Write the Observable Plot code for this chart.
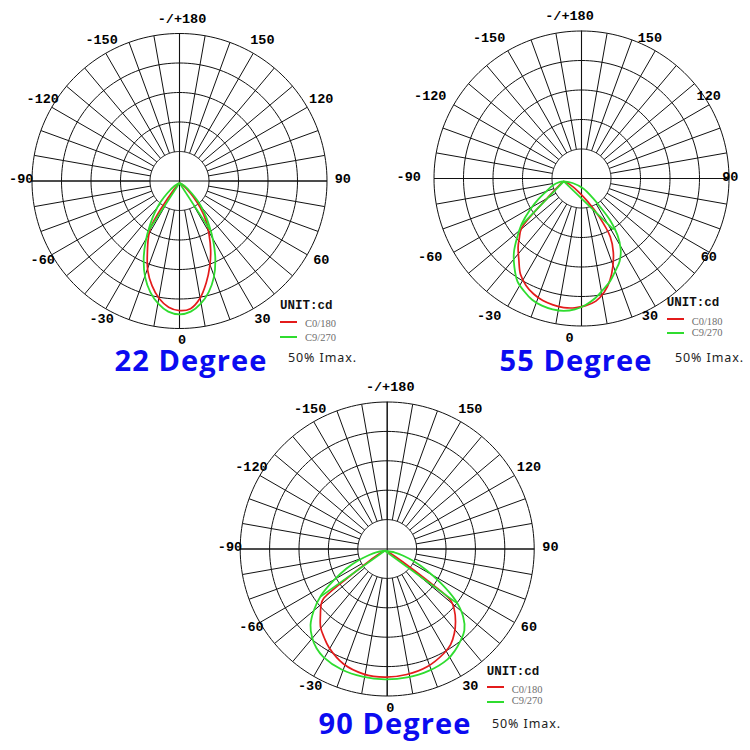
<!DOCTYPE html>
<html>
<head>
<meta charset="utf-8">
<script src="https://cdn.jsdelivr.net/npm/d3@7"></script>
<script src="https://cdn.jsdelivr.net/npm/@observablehq/plot@0.6"></script>
<style>
  html, body { margin: 0; padding: 0; background: #fff; }
  #page { position: relative; width: 750px; height: 750px; overflow: hidden; background: #fff; }
  .chart { position: absolute; }
  .txt { position: absolute; white-space: nowrap; line-height: 1; transform: translate(0, -50%); }
  .title { font-family: "Open Sans", "Noto Sans", sans-serif; font-weight: 700; color: #0b0bf0; font-size: 29px; letter-spacing: 1.1px; line-height: 0.78; transform: translate(-50%, -50%); }
  .unit { font-family: "Liberation Mono", "DejaVu Sans Mono", monospace; font-weight: 700; font-size: 12.5px; color: #111; }
  .ser { font-family: "Liberation Serif", "DejaVu Serif", serif; font-size: 10.5px; color: #6e6e6e; }
  .imax { font-family: "Noto Sans", "Open Sans", sans-serif; font-size: 12.5px; letter-spacing: 0.9px; color: #222; }
  .swatch { position: absolute; height: 2px; width: 17px; }
</style>
</head>
<body>
<div id="page"></div>
<script>
// ---------------- data ----------------
const chartTitles = ["22 Degree", "55 Degree", "90 Degree"];
const seriesNames = ["C0/180", "C9/270"];
const unitLabel = "UNIT:cd";
const scaleNote = "50% Imax.";
const ringRadii = [0.2, 0.4, 0.6, 0.8, 1.0];
const tickAngles = [180, 150, 120, 90, 60, 30, 0, -30, -60, -90, -120, -150];
const tickLabels = ["-/+180", "150", "120", "90", "60", "30", "0", "-30", "-60", "-90", "-120", "-150"];

// origin (apex) of the curves, in fractions of the outer radius (x right, y up)
const apexX = [0, -0.12, -0.016];
const apexY = [-0.014, -0.02, -0.012];

// 22 Degree
const c1RedAngles = [-90, -50, -40, -36, -33, -30, -25, -20, -15, -10, -5, 0, 5, 10, 15, 20, 25, 30, 35, 40, 45, 50, 60, 90];
const c1RedR      = [0, 0.01, 0.06, 0.2, 0.36, 0.42, 0.515, 0.63, 0.72, 0.795, 0.845, 0.865, 0.855, 0.795, 0.70, 0.60, 0.50, 0.40, 0.315, 0.22, 0.13, 0.07, 0.02, 0];
const c1GreenAngles = [-90, -70, -60, -50, -45, -40, -35, -30, -25, -20, -15, -10, -5, 0, 5, 10, 15, 20, 25, 30, 35, 40, 45, 50, 60, 70, 90];
const c1GreenR      = [0, 0.01, 0.04, 0.11, 0.18, 0.26, 0.35, 0.46, 0.575, 0.68, 0.765, 0.83, 0.875, 0.89, 0.875, 0.83, 0.765, 0.68, 0.575, 0.46, 0.35, 0.26, 0.18, 0.11, 0.04, 0.01, 0];
const c1SpurAngles = [-33, 33];
const c1SpurR      = [0.38, 0.38];

// 55 Degree
const c2RedAngles = [-90, -60, -50, -45, -42, -38, -35, -30, -25, -20, -15, -10, -5, 0, 5, 10, 15, 20, 25, 30, 35, 40, 45, 50, 55, 60, 70, 90];
const c2RedR      = [0, 0.01, 0.04, 0.15, 0.43, 0.49, 0.54, 0.61, 0.695, 0.75, 0.79, 0.82, 0.84, 0.855, 0.86, 0.855, 0.84, 0.80, 0.74, 0.665, 0.585, 0.49, 0.34, 0.21, 0.12, 0.07, 0.02, 0];
const c2GreenAngles = [-90, -80, -70, -60, -55, -50, -45, -40, -35, -30, -25, -20, -15, -10, -5, 0, 5, 10, 15, 20, 25, 30, 35, 40, 45, 50, 55, 60, 70, 80, 90];
const c2GreenR      = [0, 0.03, 0.08, 0.14, 0.21, 0.30, 0.40, 0.49, 0.59, 0.67, 0.745, 0.79, 0.83, 0.855, 0.87, 0.877, 0.87, 0.85, 0.82, 0.78, 0.745, 0.70, 0.66, 0.60, 0.515, 0.41, 0.30, 0.23, 0.14, 0.06, 0];
const c2SpurAngles = [-44, 46];
const c2SpurR      = [0.41, 0.47];

// 90 Degree
const c3RedAngles = [-90, -65, -57, -54, -52, -50, -45, -40, -35, -30, -20, -10, 0, 10, 20, 30, 35, 40, 45, 50, 53, 55, 58, 65, 90];
const c3RedR      = [0, 0.03, 0.12, 0.3, 0.53, 0.565, 0.62, 0.68, 0.72, 0.76, 0.82, 0.85, 0.86, 0.855, 0.84, 0.805, 0.78, 0.735, 0.68, 0.615, 0.56, 0.35, 0.15, 0.04, 0];
const c3GreenAngles = [-90, -80, -75, -70, -65, -60, -55, -50, -45, -40, -35, -30, -20, -10, 0, 10, 20, 30, 35, 40, 45, 50, 55, 60, 65, 70, 75, 80, 90];
const c3GreenR      = [0, 0.06, 0.11, 0.19, 0.29, 0.40, 0.53, 0.63, 0.715, 0.77, 0.81, 0.835, 0.86, 0.87, 0.875, 0.875, 0.87, 0.853, 0.83, 0.80, 0.765, 0.695, 0.585, 0.44, 0.31, 0.21, 0.13, 0.07, 0];
const c3SpurAngles = [-54.5, 54];
const c3SpurR      = [0.54, 0.60];

// ---------------- layout / style ----------------
const seriesColors = ["#e31b1b", "#2fdc2f"];
const layout = [
  {left: 0,   top: 0,   w: 375, h: 375, cx: 179,   cy: 180.5, R: 147.5, labelDx: 2.5,
   title: [191, 359.5], unit: [280, 306], sw: [280, 322.3, 336.7], ser: [305, 324, 337.5], imax: [288, 358]},
  {left: 375, top: 0,   w: 375, h: 375, cx: 206,   cy: 178,   R: 147.5, labelDx: -12,
   title: [576, 359.5], unit: [666.7, 303.3], sw: [666.7, 319.3, 332.7], ser: [691.7, 321.7, 333], imax: [675, 358]},
  {left: 190, top: 375, w: 375, h: 375, cx: 196.7, cy: 173.5, R: 147, labelDx: 3,
   title: [395, 722.5], unit: [486.7, 671.7], sw: [486.7, 687.3, 701.7], ser: [511.7, 690, 701], imax: [492, 724]}
];

const curveSets = [
  {red: [c1RedAngles, c1RedR], green: [c1GreenAngles, c1GreenR], spur: [c1SpurAngles, c1SpurR]},
  {red: [c2RedAngles, c2RedR], green: [c2GreenAngles, c2GreenR], spur: [c2SpurAngles, c2SpurR]},
  {red: [c3RedAngles, c3RedR], green: [c3GreenAngles, c3GreenR], spur: [c3SpurAngles, c3SpurR]}
];

const rad = d => d * Math.PI / 180;
const page = document.getElementById("page");

function addText(cls, text, x, y) {
  const el = document.createElement("div");
  el.className = "txt " + cls;
  el.textContent = text;
  el.style.left = x + "px";
  el.style.top = y + "px";
  page.appendChild(el);
}

layout.forEach((L, i) => {
  const R = L.R;
  const ringPts = ringRadii.flatMap(r => d3.range(0, 361, 2).map(t => ({r, t})));
  const spokes = d3.range(0, 360, 10);
  const diam = [0, 90];
  const ticks = tickAngles.map((a, k) => ({a, label: tickLabels[k]}));
  const lr = 1.09;
  const cs = curveSets[i];
  const ax = apexX[i], ay = apexY[i];
  const toPts = ([angs, rs], name) => angs.map((a, k) => ({a, r: rs[k], name}));
  const red = toPts(cs.red, seriesNames[0]);
  const green = toPts(cs.green, seriesNames[1]);
  const spur = toPts(cs.spur, seriesNames[1]);
  const px = d => ax + d.r * Math.sin(rad(d.a));
  const py = d => ay - d.r * Math.cos(rad(d.a));

  const chart = Plot.plot({
    width: L.w, height: L.h, margin: 0,
    x: {domain: [-L.cx / R, (L.w - L.cx) / R], axis: null},
    y: {domain: [-(L.h - L.cy) / R, L.cy / R], axis: null},
    style: {background: "transparent", overflow: "visible"},
    marks: [
      Plot.line(ringPts, {x: d => d.r * Math.sin(rad(d.t)), y: d => d.r * Math.cos(rad(d.t)), z: "r", stroke: "#111", strokeWidth: 1}),
      Plot.link(spokes, {
        x1: d => ringRadii[0] * Math.sin(rad(d)), y1: d => -ringRadii[0] * Math.cos(rad(d)),
        x2: d => Math.sin(rad(d)), y2: d => -Math.cos(rad(d)), stroke: "#111", strokeWidth: 1}),
      Plot.link(diam, {
        x1: d => -Math.sin(rad(d)), y1: d => Math.cos(rad(d)),
        x2: d => Math.sin(rad(d)), y2: d => -Math.cos(rad(d)), stroke: "#111", strokeWidth: 1.1}),
      Plot.text(ticks, {
        x: d => lr * Math.sin(rad(d.a)) + L.labelDx / R,
        y: d => -lr * Math.cos(rad(d.a)) + 2 / R,
        text: "label", fill: "#000", fontSize: 13.5, fontWeight: "bold",
        fontFamily: "Liberation Mono, DejaVu Sans Mono, monospace"}),
      Plot.line(red, {x: px, y: py, stroke: seriesColors[0], strokeWidth: 1.7, curve: "catmull-rom"}),
      Plot.link(spur, {x1: () => ax, y1: () => ay, x2: px, y2: py, stroke: seriesColors[1], strokeWidth: 1.7}),
      Plot.line(green, {x: px, y: py, stroke: seriesColors[1], strokeWidth: 1.8, curve: "catmull-rom"})
    ]
  });
  chart.classList.add("chart");
  chart.style.left = L.left + "px";
  chart.style.top = L.top + "px";
  page.appendChild(chart);

  // title, legend, note
  addText("title", chartTitles[i], L.title[0], L.title[1]);
  addText("unit", unitLabel, L.unit[0], L.unit[1]);
  seriesNames.forEach((s, k) => {
    const sw = document.createElement("div");
    sw.className = "swatch";
    sw.style.left = L.sw[0] + "px";
    sw.style.top = (L.sw[1 + k] - 1) + "px";
    sw.style.background = seriesColors[k];
    page.appendChild(sw);
    addText("ser", s, L.ser[0], L.ser[1 + k]);
  });
  addText("imax", scaleNote, L.imax[0], L.imax[1]);
});
</script>
</body>
</html>
